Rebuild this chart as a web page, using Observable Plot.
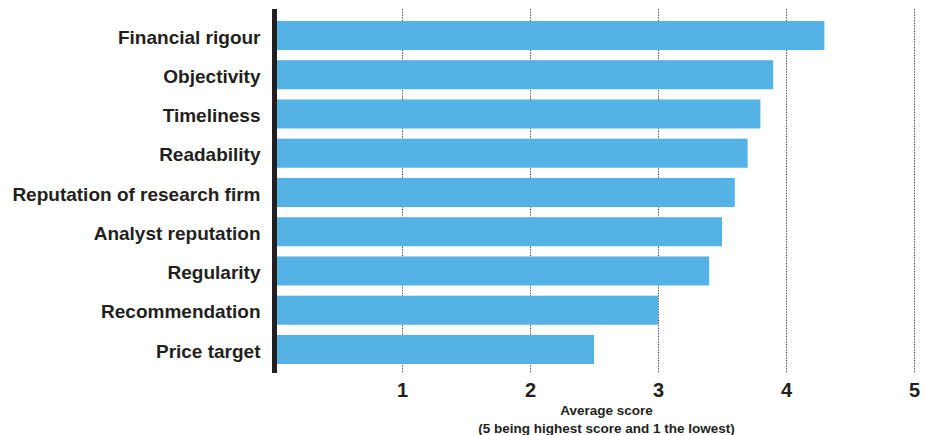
<!DOCTYPE html>
<html>
<head>
<meta charset="utf-8">
<script src="https://cdn.jsdelivr.net/npm/d3@7"></script>
<script src="https://cdn.jsdelivr.net/npm/@observablehq/plot@0.6"></script>
<style>
  html, body { margin: 0; padding: 0; background: #fff; }
  #chart svg { display: block; }
</style>
</head>
<body>
<div id="chart"></div>
<script>
const categories = [
  "Financial rigour",
  "Objectivity",
  "Timeliness",
  "Readability",
  "Reputation of research firm",
  "Analyst reputation",
  "Regularity",
  "Recommendation",
  "Price target"
];
const scores = [4.3, 3.9, 3.8, 3.7, 3.6, 3.5, 3.4, 3.0, 2.5];
const xTicks = [1, 2, 3, 4, 5];
const axisTitle = ["Average score", "(5 being highest score and 1 the lowest)"];

const data = categories.map((c, i) => ({label: c, score: scores[i]}));
const ink = "#231f20";
const font = "'Liberation Sans', Arial, sans-serif";

const chart = Plot.plot({
  width: 925,
  height: 435,
  marginTop: 9,
  marginBottom: 62,
  marginLeft: 274,
  marginRight: 11,
  style: {fontFamily: font, color: ink, background: "#fff"},
  x: {domain: [0, 5]},
  y: {domain: categories, paddingInner: 0.26, paddingOuter: 0.267, align: 0.57, round: false},
  marks: [
    Plot.gridX(xTicks, {stroke: "#555", strokeOpacity: 1, strokeWidth: 1, strokeDasharray: "1.5,1.2"}),
    Plot.barX(data, {x: "score", y: "label", fill: "#55b2e5"}),
    Plot.ruleX([0], {stroke: ink, strokeWidth: 5}),
    Plot.axisX(xTicks, {tickSize: 0, tickPadding: 9, tickFormat: "d", fontSize: 20, fontWeight: "bold", fill: ink, label: null}),
    Plot.axisY({tickSize: 0, tickPadding: 14, dy: 1.5, fontSize: 19, fontWeight: "bold", fill: ink, label: null}),
    Plot.text([axisTitle.join("\n")], {frameAnchor: "bottom", dx: 12, dy: 29, lineAnchor: "top", lineHeight: 1.33, fontSize: 13.5, fontWeight: "bold", fill: ink})
  ]
});
document.getElementById("chart").appendChild(chart);
</script>
</body>
</html>
